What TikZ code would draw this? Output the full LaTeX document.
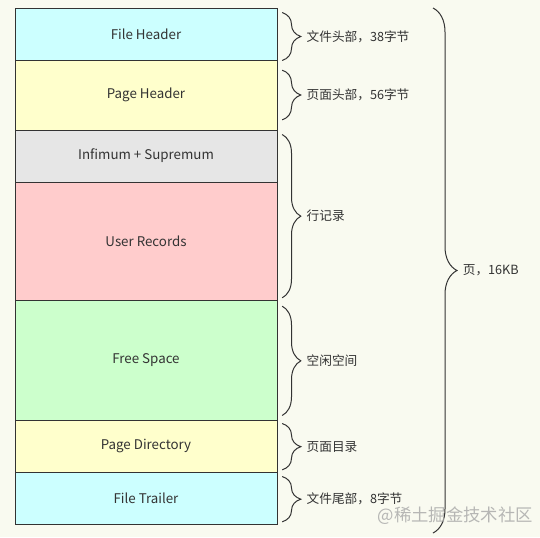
\documentclass[tikz,border=0pt]{standalone}
\usepackage{fontspec}
\setmainfont{Noto Sans CJK SC}
\usetikzlibrary{decorations.pathreplacing}
\definecolor{bgcream}{HTML}{F9FAF0}
\definecolor{linegray}{HTML}{333333}
\definecolor{textgray}{HTML}{333333}
\definecolor{headcyan}{HTML}{CCFFFF}
\definecolor{headyellow}{HTML}{FFFFCC}
\definecolor{infgray}{HTML}{E6E6E6}
\definecolor{recpink}{HTML}{FFCCCC}
\definecolor{freegreen}{HTML}{CCFFCC}
\begin{document}
\begin{tikzpicture}[x=0.75pt, y=-0.75pt,
    section/.style ={draw=linegray, line width=0.75pt, minimum width=196.5pt,
      inner sep=0pt, text=textgray, font=\fontsize{10}{12}\selectfont},
    bracket/.style ={draw=linegray, line width=0.75pt, decorate,
      decoration={brace, amplitude=14pt}},
    bigbracket/.style ={draw=linegray, line width=0.75pt, decorate,
      decoration={brace, amplitude=18pt}},
    note/.style ={anchor=west, inner sep=0pt, text=textgray,
      font=\fontsize{9.5}{11}\selectfont}]
   \fill[bgcream] (0,0) rectangle (540,537);
   \useasboundingbox (0,0) rectangle (540,537);

   \node[section, fill=headcyan, minimum height=39pt] (FH) at (146,34) {File Header};
   \node[section, fill=headyellow, minimum height=52.5pt] (PH) at (146,95) {Page Header};
   \node[section, fill=infgray, minimum height=39pt] (IS) at (146,156) {Infimum + Supremum};
   \node[section, fill=recpink, minimum height=88.5pt] (UR) at (146,241) {User Records};
   \node[section, fill=freegreen, minimum height=90pt] (FS) at (146,360) {Free Space};
   \node[section, fill=headyellow, minimum height=39pt] (PD) at (146,446) {Page Directory};
   \node[section, fill=headcyan, minimum height=39pt] (FT) at (146,498) {File Trailer};

   \draw[bracket] ([xshift=3.5pt,yshift=-3.75pt]FH.north east) --
     node[note, xshift=18pt] (FHnote) {文件头部，38字节} ([xshift=3.5pt]FH.south east);
   \draw[bracket] ([xshift=3.5pt,yshift=-8pt]PH.north east) --
     node[note, xshift=18pt] (PHnote) {页面头部，56字节} ([xshift=3.5pt,yshift=8pt]PH.south east);
   \draw[bracket] ([xshift=3.5pt,yshift=-3.75pt]IS.north east) --
     node[note, xshift=18pt] (URnote) {行记录} ([xshift=3.5pt,yshift=2pt]UR.south east);
   \draw[bracket] ([xshift=3.5pt,yshift=-5pt]FS.north east) --
     node[note, xshift=18pt] (FSnote) {空闲空间} ([xshift=3.5pt,yshift=3.75pt]FS.south east);
   \draw[bracket] ([xshift=3.5pt,yshift=-3pt]PD.north east) --
     node[note, xshift=18pt] (PDnote) {页面目录} ([xshift=3.5pt,yshift=2pt]PD.south east);
   \draw[bracket] ([xshift=3.5pt,yshift=-3.75pt]FT.north east) --
     node[note, xshift=18pt] (FTnote) {文件尾部，8字节} ([xshift=3.5pt,yshift=2pt]FT.south east);

   \coordinate (PGtop) at (433,8);
   \coordinate (PGbottom) at (433,533);
   \draw[bigbracket] (PGtop) -- node[note, xshift=22pt] (PGnote) {页，16KB} (PGbottom);

   \node[anchor=east, inner sep=0pt, text=black!35, opacity=0.8,
     font=\fontsize{13}{15}\selectfont] (mark) at (533,516) {@稀土掘金技术社区};
 \end{tikzpicture}
\end{document}
